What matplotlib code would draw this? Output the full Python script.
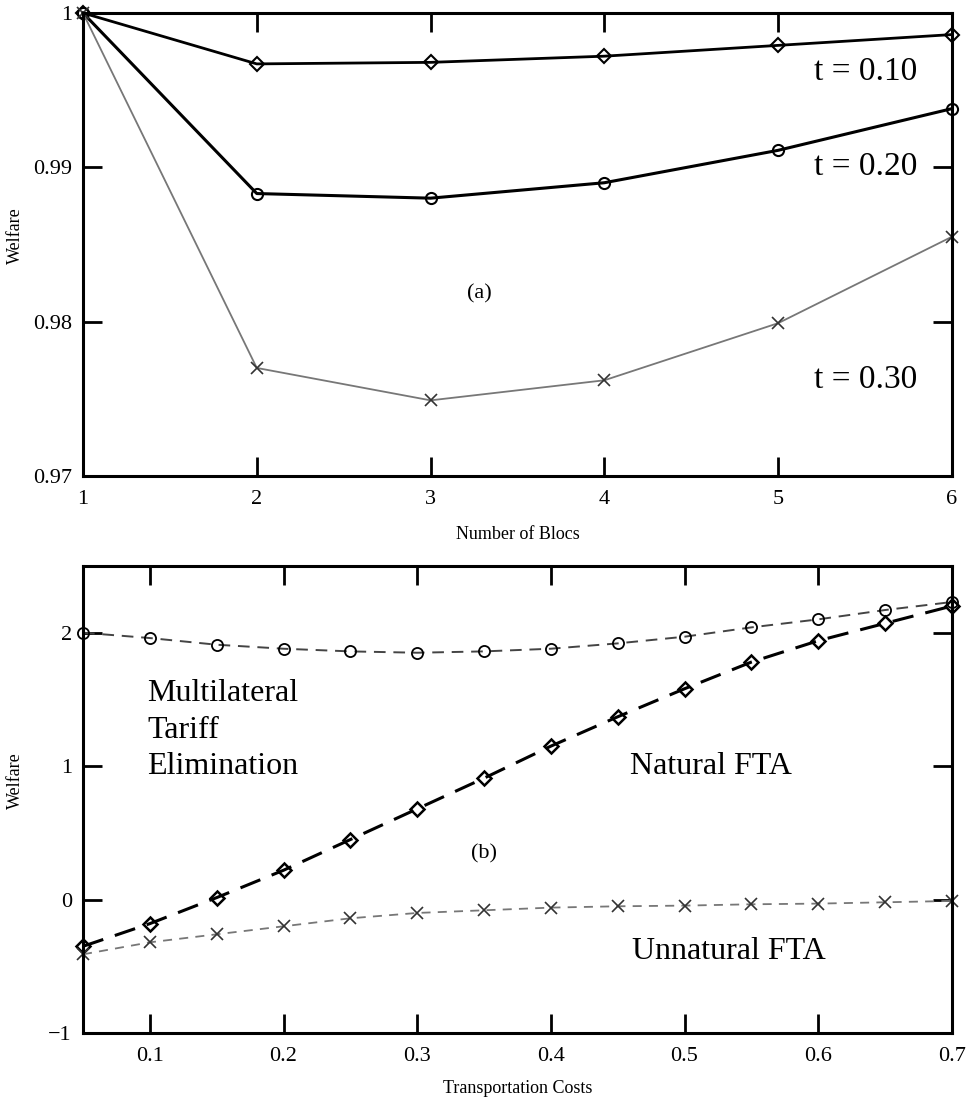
import numpy as np
import matplotlib.pyplot as plt

plt.rcParams['font.family'] = ['Liberation Serif', 'DejaVu Serif']

# panel (a): welfare vs number of blocs
blocs = [1, 2, 3, 4, 5, 6]
w_t10 = [1.0, 0.9967, 0.9968, 0.9972, 0.9979, 0.9986]
w_t20 = [1.0, 0.9883, 0.9880, 0.9890, 0.9911, 0.9938]
w_t30 = [1.0, 0.9770, 0.9749, 0.9762, 0.9799, 0.9855]

# panel (b): welfare vs transportation costs
tcost = [0.05, 0.10, 0.15, 0.20, 0.25, 0.30, 0.35, 0.40, 0.45, 0.50, 0.55, 0.60, 0.65, 0.70]
multilateral = [2.00, 1.96, 1.91, 1.88, 1.86, 1.85, 1.86, 1.88, 1.92, 1.97, 2.04, 2.10, 2.17, 2.23]
natural = [-0.35, -0.18, 0.015, 0.22, 0.45, 0.68, 0.91, 1.15, 1.37, 1.58, 1.78, 1.94, 2.07, 2.20]
unnatural = [-0.41, -0.32, -0.26, -0.20, -0.14, -0.10, -0.08, -0.06, -0.05, -0.045, -0.035, -0.03, -0.02, -0.01]

fig = plt.figure(figsize=(9.73, 10.99), dpi=100)
ax1 = fig.add_axes([0.0853, 0.5669, 0.893, 0.4213])
ax2 = fig.add_axes([0.0853, 0.060, 0.893, 0.425])


def style_axes(ax):
    for s in ax.spines.values():
        s.set_linewidth(2.2)
    ax.tick_params(direction='in', length=14, width=2, top=True, right=True,
                   labelsize=16)
    ax.tick_params(axis='x', pad=10)
    ax.tick_params(axis='y', pad=8)


# --- panel (a) ---
ax1.plot(blocs, w_t10, color='black', lw=2, marker='D', ms=7, mfc='none', mew=1.5, clip_on=False)
ax1.plot(blocs, w_t20, color='black', lw=2.2, marker='o', ms=8, mfc='none', mew=1.5, clip_on=False)
ax1.plot(blocs, w_t30, color='#777777', lw=1.3, marker='x', ms=9, mec='#333333', mew=1.2, clip_on=False)
ax1.set_xlim(1, 6)
ax1.set_ylim(0.97, 1.0)
ax1.set_xticks([1, 2, 3, 4, 5, 6])
ax1.set_yticks([0.97, 0.98, 0.99, 1.0])
ax1.set_yticklabels(['0.97', '0.98', '0.99', '1'])
ax1.set_xlabel('Number of Blocs', fontsize=13, labelpad=12)
ax1.set_ylabel('Welfare', fontsize=13)
ax1.yaxis.set_label_coords(-0.068, 0.52)
style_axes(ax1)
ax1.text(5.80, 0.99618, 't = 0.10', fontsize=24, ha='right', va='center')
ax1.text(5.80, 0.99002, 't = 0.20', fontsize=24, ha='right', va='center')
ax1.text(5.80, 0.97622, 't = 0.30', fontsize=24, ha='right', va='center')
ax1.text(3.28, 0.9818, '(a)', fontsize=16, ha='center', va='center')

# --- panel (b) ---
ax2.plot(tcost, multilateral, color='#444444', lw=1.4, ls=(0, (6, 4)), marker='o', ms=8,
         mfc='none', mec='black', mew=1.3, clip_on=False)
ax2.plot(tcost, natural, color='black', lw=2.2, ls=(0, (7, 4)), marker='D', ms=7,
         mfc='none', mec='black', mew=1.8, clip_on=False)
ax2.plot(tcost, unnatural, color='#777777', lw=1.3, ls=(0, (5, 4)), marker='x', ms=9,
         mec='#333333', mew=1.2, clip_on=False)
ax2.set_xlim(0.05, 0.7)
ax2.set_ylim(-1, 2.5)
ax2.set_xticks([0.1, 0.2, 0.3, 0.4, 0.5, 0.6, 0.7])
ax2.set_xticklabels(['0.1', '0.2', '0.3', '0.4', '0.5', '0.6', '0.7'])
ax2.set_yticks([-1, 0, 1, 2])
ax2.set_yticklabels(['\u22121', '0', '1', '2'])
ax2.set_xlabel('Transportation Costs', fontsize=13, labelpad=10)
ax2.set_ylabel('Welfare', fontsize=13)
ax2.yaxis.set_label_coords(-0.068, 0.54)
style_axes(ax2)
ax2.text(0.098, 1.27, 'Multilateral\nTariff\nElimination', fontsize=23, ha='left', va='center',
         linespacing=1.35)
ax2.text(0.459, 1.0, 'Natural FTA', fontsize=23, ha='left', va='center')
ax2.text(0.461, -0.39, 'Unnatural FTA', fontsize=23, ha='left', va='center')
ax2.text(0.35, 0.34, '(b)', fontsize=16, ha='center', va='center')

fig.savefig('out.png', dpi=100)
